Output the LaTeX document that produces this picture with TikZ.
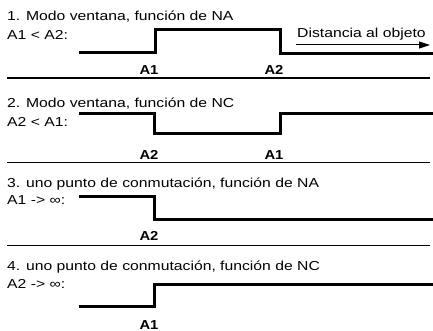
\documentclass[tikz,border=0pt]{standalone}
\usepackage{graphicx}
\usepackage{fontspec}
\setmainfont{Liberation Sans}
\usetikzlibrary{arrows.meta}
\newcommand{\hstr}[1]{\scalebox{1.21}[1]{#1}}
\newcommand{\hstrb}[1]{\scalebox{1.14}[1]{#1}}
\begin{document}
\begin{tikzpicture}[x=1pt,y=-1pt,
  txt/.style={anchor=base west,inner sep=0pt,font=\fontsize{13}{14}\selectfont},
  lbl/.style={anchor=base,inner sep=0pt,font=\fontsize{13}{14}\selectfont\bfseries},
  sig/.style={line width=3pt,line join=miter},
  sep/.style={line width=1.3pt}]
\useasboundingbox (0,0) rectangle (433,331);
% Panel 1
\node[txt] (t1) at (7,21) {\hstr{1. Modo ventana, función de NA}};
\node[txt] (s1) at (7,40) {\hstr{A1 < A2:}};
\draw[sig] (79,53) -- (155.5,53) -- (155.5,30) -- (280,30) -- (280,53.5) -- (433,53.5);
\node[txt] (d1) at (297,38) {\hstr{Distancia al objeto}};
\coordinate (aS) at (296,45);
\coordinate (aE) at (430,45);
\draw[line width=1pt,-{Triangle[length=11pt,width=7pt]}] (aS) -- (aE);
\node[lbl] (l1a) at (149,75) {\hstrb{A1}};
\node[lbl] (l1b) at (274,75) {\hstrb{A2}};
\coordinate (p1a) at (7,78); \coordinate (p1b) at (430,78);
\draw[sep] (p1a) -- (p1b);
% Panel 2
\node[txt] (t2) at (7,107.5) {\hstr{2. Modo ventana, función de NC}};
\node[txt] (s2) at (7,126.5) {\hstr{A2 < A1:}};
\draw[sig] (79,113.3) -- (154.5,113.3) -- (154.5,134) -- (280,134) -- (280,113.3) -- (433,113.3);
\node[lbl] (l2a) at (149,160) {\hstrb{A2}};
\node[lbl] (l2b) at (274,160) {\hstrb{A1}};
\coordinate (p2a) at (7,162.5); \coordinate (p2b) at (430,162.5);
\draw[sep] (p2a) -- (p2b);
% Panel 3
\node[txt] (t3) at (7,187.5) {\hstr{3. uno punto de conmutación, función de NA}};
\node[txt] (s3) at (7,204) {\hstr{A1 -> ∞:}};
\draw[sig] (79,196) -- (154.5,196) -- (154.5,219) -- (433,219);
\node[lbl] (l3a) at (149,240) {\hstrb{A2}};
\coordinate (p3a) at (7,245.5); \coordinate (p3b) at (430,245.5);
\draw[sep] (p3a) -- (p3b);
% Panel 4
\node[txt] (t4) at (7,270) {\hstr{4. uno punto de conmutación, función de NC}};
\node[txt] (s4) at (7,288.5) {\hstr{A2 -> ∞:}};
\draw[sig] (79,306.5) -- (154.5,306.5) -- (154.5,284.5) -- (433,284.5);
\node[lbl] (l4a) at (149,329) {\hstrb{A1}};
\end{tikzpicture}
\end{document}
